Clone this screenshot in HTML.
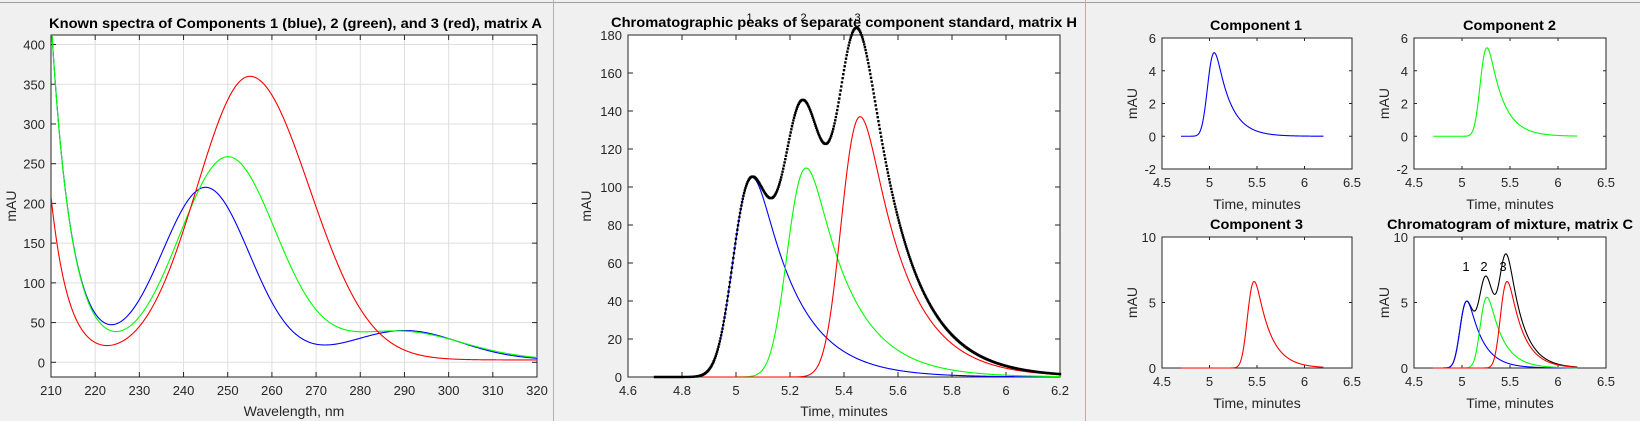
<!DOCTYPE html>
<html><head><meta charset="utf-8">
<style>
html,body{margin:0;padding:0;background:#f0f0f0;}
svg{display:block;font-family:"Liberation Sans",Arial,sans-serif;}
</style></head>
<body>
<svg id="s" width="1640" height="421" viewBox="0 0 1640 421" xmlns="http://www.w3.org/2000/svg"></svg>
<script>
const S=document.getElementById('s');
let out='';
out+='<rect width="1640" height="421" fill="#f0f0f0"/>';
out+='<line x1="0" y1="2.5" x2="1640" y2="2.5" stroke="#a0a0a0"/>';
out+='<line x1="553.5" y1="0" x2="553.5" y2="421" stroke="#b0b0b0"/>';
out+='<line x1="1085.5" y1="0" x2="1085.5" y2="421" stroke="#9ad04a"/>';

function erfc(x){const z=Math.abs(x),t=1/(1+0.5*z);const r=t*Math.exp(-z*z-1.26551223+t*(1.00002368+t*(0.37409196+t*(0.09678418+t*(-0.18628806+t*(0.27886807+t*(-1.13520398+t*(1.48851587+t*(-0.82215223+t*0.17087277)))))))));return x>=0?r:2-r;}
function emgRaw(t,s,tau){
  const a=s*s/(2*tau*tau)-t/tau; const b=(s/tau - t/s)/Math.SQRT2;
  const v=Math.exp(a+Math.log(Math.max(erfc(b),1e-300)));return isFinite(v)?v:0;}
function makePeak(pk,h,s,tau){
  let best=-1,bt=0;for(let t=-0.5;t<1;t+=0.0005){const v=emgRaw(t,s,tau);if(v>best){best=v;bt=t;}}
  return x=>h*emgRaw(x-pk+bt,s,tau)/best;}

function axes(o){
  const {x0,x1,y0,y1,xmin,xmax,ymin,ymax}=o;
  o.X=x=>x0+(x-xmin)/(xmax-xmin)*(x1-x0);
  o.Y=y=>y1-(y-ymin)/(ymax-ymin)*(y1-y0);
  let g='<rect x="'+x0+'" y="'+y0+'" width="'+(x1-x0)+'" height="'+(y1-y0)+'" fill="#fff"/>';
  const tl=o.tl||5;
  o.xt.forEach(v=>{const X=o.X(v);
    if(o.grid)g+='<line x1="'+X+'" y1="'+y0+'" x2="'+X+'" y2="'+y1+'" stroke="#dfdfdf"/>';
    g+='<line x1="'+X+'" y1="'+y1+'" x2="'+X+'" y2="'+(y1-tl)+'" stroke="#262626"/><line x1="'+X+'" y1="'+y0+'" x2="'+X+'" y2="'+(y0+tl)+'" stroke="#262626"/>';
    g+='<text x="'+X+'" y="'+(y1+o.xtd)+'" font-size="'+o.fs+'" fill="#262626" text-anchor="middle">'+v+'</text>';});
  o.yt.forEach(v=>{const Y=o.Y(v);
    if(o.grid)g+='<line x1="'+x0+'" y1="'+Y+'" x2="'+x1+'" y2="'+Y+'" stroke="#dfdfdf"/>';
    g+='<line x1="'+x0+'" y1="'+Y+'" x2="'+(x0+tl)+'" y2="'+Y+'" stroke="#262626"/><line x1="'+x1+'" y1="'+Y+'" x2="'+(x1-tl)+'" y2="'+Y+'" stroke="#262626"/>';
    g+='<text x="'+(x0-6)+'" y="'+(Y+5)+'" font-size="'+o.fs+'" fill="#262626" text-anchor="end">'+v+'</text>';});
  g+='<rect x="'+x0+'" y="'+y0+'" width="'+(x1-x0)+'" height="'+(y1-y0)+'" fill="none" stroke="#262626"/>';
  g+='<text x="'+o.tx+'" y="'+o.ty+'" font-size="14" font-weight="bold" fill="#000" textLength="'+o.tw+'" lengthAdjust="spacingAndGlyphs">'+o.title+'</text>';
  g+='<text x="'+(x0+x1)/2+'" y="'+o.xly+'" font-size="14" fill="#262626" text-anchor="middle">'+o.xl+'</text>';
  g+='<text transform="translate('+o.ylx+','+(y0+y1)/2+') rotate(-90)" font-size="14" fill="#262626" text-anchor="middle">mAU</text>';
  return g;}
function path(o,f,a,b,col,w){let d='';const n=600;
  for(let i=0;i<=n;i++){const x=a+(b-a)*i/n;let y=f(x);
    d+=(i?'L':'M')+o.X(x).toFixed(2)+','+o.Y(y).toFixed(2);}
  return '<path d="'+d+'" fill="none" stroke="'+col+'" stroke-width="'+(w||1.1)+'"/>';}
function dots(o,f,a,b){let d='';const n=600;
  for(let i=0;i<=n;i++){const x=a+(b-a)*i/n;const X=o.X(x),Y=o.Y(f(x));
    d+='M'+(X-1.2).toFixed(2)+','+(Y-1.2).toFixed(2)+'h2.4v2.4h-2.4z';}
  return '<path d="'+d+'" fill="#000"/>';}

// Panel 1
const p1={x0:51,x1:537,y0:35,y1:377,xmin:210,xmax:320,ymin:-18.5,ymax:412,
 xt:[210,220,230,240,250,260,270,280,290,300,310,320],yt:[0,50,100,150,200,250,300,350,400],
 grid:true,fs:13,xtd:18,title:'Known spectra of Components 1 (blue), 2 (green), and 3 (red), matrix A',tx:49,tw:493,ty:28,xl:'Wavelength, nm',xly:416,ylx:16};
out+='<g>'+axes(p1);
const G=(x,m,h,s)=>h*Math.exp(-(x-m)*(x-m)/(2*s*s));
const blue=x=>430*Math.exp(-(x-210)/4.6)+G(x,245,217,10)+G(x,290,37,12.5)+3;
const green=x=>430*Math.exp(-(x-210)/4.6)+G(x,250,255,11)+G(x,289,36,14)+3;
const red=x=>205*Math.exp(-(x-210)/4)+(x<255?G(x,255,357,12):G(x,255,357,13.5))+3;
out+='<clipPath id="c1"><rect x="51" y="35" width="486" height="342"/></clipPath><g clip-path="url(#c1)">';
out+=path(p1,blue,210,320,'#0000ff')+path(p1,green,210,320,'#00ff00')+path(p1,red,210,320,'#ff0000');
out+='</g></g>';

// Panel 2
const p2={x0:628,x1:1060,y0:35,y1:377,xmin:4.6,xmax:6.2,ymin:0,ymax:180,
 xt:[4.6,4.8,5,5.2,5.4,5.6,5.8,6,6.2],yt:[0,20,40,60,80,100,120,140,160,180],
 fs:13,xtd:18,title:'Chromatographic peaks of separate component standard, matrix H',tx:611,tw:466,ty:27,xl:'Time, minutes',xly:416,ylx:591};
out+=axes(p2);
const SG=0.05,TAU=0.15;
const b2=makePeak(5.06,105,SG,TAU),g2=makePeak(5.26,110,SG,TAU),r2=makePeak(5.46,137,SG,TAU);
const s2=x=>b2(x)+g2(x)+r2(x);
out+=path(p2,b2,4.7,6.2,'#0000ff')+path(p2,g2,4.7,6.2,'#00ff00')+path(p2,r2,4.7,6.2,'#ff0000');
out+=dots(p2,s2,4.7,6.2);
['1','2','3'].forEach((t,i)=>{out+='<text x="'+p2.X([5.05,5.25,5.45][i])+'" y="21" font-size="11" fill="#000" text-anchor="middle">'+t+'</text>';});

function small(x0,x1,y0,y1,ymin,ymax,yt,title,ty,tx,tw,ylx){
  return {x0,x1,y0,y1,xmin:4.5,xmax:6.5,ymin,ymax,xt:[4.5,5,5.5,6,6.5],yt,fs:13,tl:3,xtd:18,title,ty,tx,tw,xl:'Time, minutes',xly:y1+40,ylx};}
const q1=small(1162,1352,38,169,-2,6,[-2,0,2,4,6],'Component 1',30,1210,92,1137);
const q2=small(1414,1606,38,169,-2,6,[-2,0,2,4,6],'Component 2',30,1463,93,1389);
const q3=small(1162,1352,237,368,0,10,[0,5,10],'Component 3',229,1210,93,1137);
const q4=small(1414,1606,237,368,0,10,[0,5,10],'Chromatogram of mixture, matrix C',229,1387,246,1389);
const sb=makePeak(5.05,5.1,SG,TAU),sg=makePeak(5.26,5.4,SG,TAU),sr=makePeak(5.47,6.6,SG,TAU);
out+=axes(q1)+path(q1,sb,4.7,6.2,'#0000ff');
out+=axes(q2)+path(q2,sg,4.7,6.2,'#00ff00');
out+=axes(q3)+path(q3,sr,4.7,6.2,'#ff0000');
out+=axes(q4)+path(q4,x=>sb(x)+sg(x)+sr(x),4.7,6.2,'#000')+path(q4,sb,4.7,6.2,'#0000ff')+path(q4,sg,4.7,6.2,'#00ff00')+path(q4,sr,4.7,6.2,'#ff0000');
[['1',1466],['2',1484],['3',1503]].forEach(a=>{out+='<text x="'+a[1]+'" y="271" font-size="13" fill="#000" text-anchor="middle">'+a[0]+'</text>';});
S.innerHTML=out;
</script>
</body></html>
